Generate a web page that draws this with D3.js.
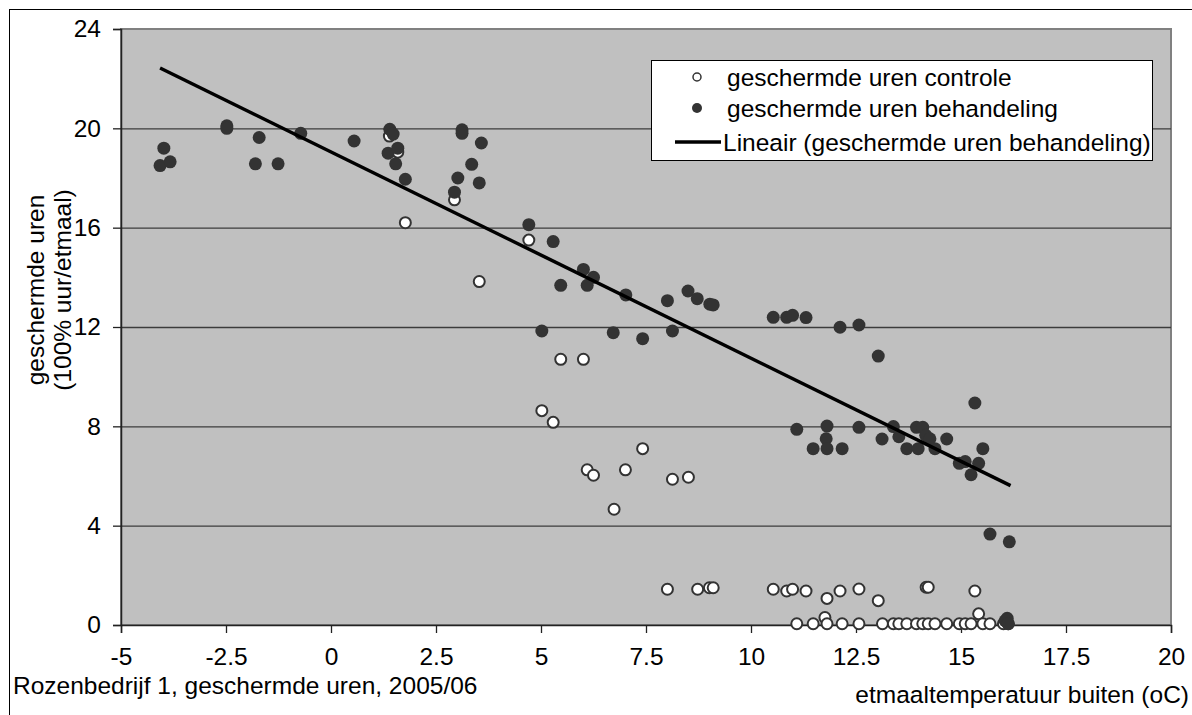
<!DOCTYPE html>
<html>
<head>
<meta charset="utf-8">
<script src="https://cdn.jsdelivr.net/npm/d3@7"></script>
<style>
  body { margin: 0; background: #fff; }
  svg { display: block; font-family: "Liberation Sans", Arial, sans-serif; }
</style>
</head>
<body>
<svg id="chart" width="1192" height="715"></svg>
<script>
// tick values
const xTicks = [-5, -2.5, 0, 2.5, 5, 7.5, 10, 12.5, 15, 17.5, 20];
const yTicks = [0, 4, 8, 12, 16, 20, 24];

// geschermde uren controle (open markers)
const controleData = [
  [1.39, 19.69], [1.59, 19.04], [1.77, 16.2], [2.94, 17.12], [4.71, 15.5], [3.53, 13.83],
  [5.47, 10.7], [6.01, 10.7], [5.02, 8.63], [5.29, 8.16], [7.42, 7.1], [6.10, 6.25],
  [6.25, 6.03], [7.01, 6.25], [8.13, 5.87], [8.51, 5.95], [6.74, 4.66], [8.01, 1.44],
  [8.73, 1.44], [9.01, 1.5], [9.1, 1.5], [10.53, 1.44], [10.85, 1.37], [10.99, 1.44],
  [11.31, 1.37], [11.81, 1.07], [12.12, 1.37], [12.57, 1.45], [13.03, 0.98], [14.17, 1.52],
  [14.22, 1.52], [15.33, 1.37], [15.42, 0.45], [11.76, 0.3],
  [11.09, 0.05], [11.48, 0.05], [11.81, 0.05], [12.17, 0.05], [12.57, 0.05], [13.13, 0.05],
  [13.39, 0.05], [13.52, 0.05], [13.71, 0.05], [13.94, 0.05], [14.09, 0.05], [14.22, 0.05],
  [14.38, 0.05], [14.66, 0.05], [14.96, 0.05], [15.1, 0.05], [15.24, 0.05], [15.52, 0.05],
  [15.69, 0.05], [16.01, 0.05], [16.13, 0.05]
];

// geschermde uren behandeling (filled markers)
const behandelingData = [
  [-4.07, 18.5], [-3.98, 19.2], [-3.83, 18.65], [-2.48, 20.1], [-2.48, 20.0], [-1.71, 19.63],
  [-1.80, 18.57], [-1.26, 18.57], [-0.72, 19.8], [0.55, 19.49], [1.40, 19.96], [1.48, 19.77],
  [1.36, 19.0], [1.59, 19.2], [1.54, 18.57], [1.77, 17.95], [3.12, 19.94], [3.12, 19.8],
  [3.58, 19.41], [3.35, 18.55], [3.02, 18.0], [3.53, 17.8], [2.94, 17.43], [4.71, 16.12],
  [5.29, 15.44], [6.01, 14.32], [6.25, 14.0], [6.10, 13.68], [5.47, 13.68], [7.02, 13.29],
  [8.01, 13.06], [8.5, 13.45], [8.72, 13.14], [9.02, 12.92], [9.10, 12.89], [10.53, 12.39],
  [10.85, 12.39], [10.99, 12.47], [11.31, 12.38], [12.12, 11.99], [12.57, 12.08], [13.03, 10.83],
  [5.02, 11.84], [6.72, 11.77], [7.42, 11.53], [8.13, 11.84], [15.33, 8.94], [11.09, 7.88],
  [11.81, 8.01], [11.79, 7.5], [11.48, 7.1], [11.81, 7.1], [12.17, 7.1], [12.57, 7.96],
  [13.12, 7.49], [13.39, 7.99], [13.52, 7.58], [13.71, 7.1], [13.94, 7.96], [14.09, 7.96],
  [13.98, 7.1], [14.16, 7.64], [14.26, 7.5], [14.38, 7.1], [14.66, 7.49], [14.96, 6.51],
  [15.1, 6.58], [15.24, 6.05], [15.42, 6.51], [15.52, 7.1], [15.69, 3.66], [16.15, 3.35],
  [16.05, 0.17], [16.1, 0.27], [16.12, 0.05]
];

// Lineair (geschermde uren behandeling), end points
const trendX = [-4.07, 16.18];
const trendY = [22.43, 5.61];

const FONT = '24.5px';
const plot = { left: 121, right: 1171, top: 29, bottom: 625 };
const svg = d3.select('#chart');

// chart frame
svg.append('rect').attr('x', 9.5).attr('y', 9.5).attr('width', 1190).attr('height', 1000)
  .attr('fill', '#fff').attr('stroke', '#000').attr('stroke-width', 1);

const x = d3.scaleLinear().domain([-5, 20]).range([plot.left, plot.right]);
const y = d3.scaleLinear().domain([0, 24]).range([plot.bottom, plot.top]);

// plot area
svg.append('rect')
  .attr('x', plot.left).attr('y', plot.top)
  .attr('width', plot.right - plot.left).attr('height', plot.bottom - plot.top)
  .attr('fill', '#c0c0c0').attr('stroke', '#808080').attr('stroke-width', 2);

// gridlines
svg.append('g').selectAll('line').data(yTicks.filter(d => d > 0 && d < 24)).enter().append('line')
  .attr('x1', plot.left).attr('x2', plot.right)
  .attr('y1', d => y(d) + 0.5).attr('y2', d => y(d) + 0.5)
  .attr('stroke', '#3c3c3c').attr('stroke-width', 1.3);

// axes
const yAxis = svg.append('g').attr('transform', `translate(${plot.left},0)`)
  .call(d3.axisLeft(y).tickValues(yTicks).tickSize(8).tickPadding(12).tickFormat(d3.format('d')));
const xAxis = svg.append('g').attr('transform', `translate(0,${plot.bottom})`)
  .call(d3.axisBottom(x).tickValues(xTicks).tickSize(8).tickPadding(15).tickFormat(d => String(d)));
[xAxis, yAxis].forEach(a => {
  a.select('.domain').attr('stroke', '#222').attr('stroke-width', 1.5);
  a.selectAll('.tick line').attr('stroke', '#222').attr('stroke-width', 1.3);
  a.selectAll('.tick text').attr('fill', '#000').attr('font-size', FONT)
    .attr('font-family', '"Liberation Sans", Arial, sans-serif');
});

// control markers (drawn first)
svg.append('g').selectAll('circle').data(controleData).enter().append('circle')
  .attr('cx', d => x(d[0])).attr('cy', d => y(d[1])).attr('r', 5.5)
  .attr('fill', '#fff').attr('stroke', '#333').attr('stroke-width', 2);

// treatment markers
svg.append('g').selectAll('circle').data(behandelingData).enter().append('circle')
  .attr('cx', d => x(d[0])).attr('cy', d => y(d[1])).attr('r', 6.5)
  .attr('fill', '#333');

// trend line
svg.append('line')
  .attr('x1', x(trendX[0])).attr('y1', y(trendY[0]))
  .attr('x2', x(trendX[1])).attr('y2', y(trendY[1]))
  .attr('stroke', '#000').attr('stroke-width', 3.5);

// legend
const lg = svg.append('g');
lg.append('rect').attr('x', 651.5).attr('y', 60.5).attr('width', 501).attr('height', 100)
  .attr('fill', '#fff').attr('stroke', '#000').attr('stroke-width', 1);
const rowY = [77, 108, 142];
lg.append('circle').attr('cx', 697).attr('cy', rowY[0]).attr('r', 4)
  .attr('fill', '#fff').attr('stroke', '#333').attr('stroke-width', 1.5);
lg.append('circle').attr('cx', 697).attr('cy', rowY[1]).attr('r', 5).attr('fill', '#333');
lg.append('line').attr('x1', 675).attr('x2', 721).attr('y1', rowY[2]).attr('y2', rowY[2])
  .attr('stroke', '#000').attr('stroke-width', 3.5);
const legendLabels = ['geschermde uren controle', 'geschermde uren behandeling', 'Lineair (geschermde uren behandeling)'];
lg.selectAll('text.lbl').data(legendLabels).enter().append('text')
  .attr('x', (d, i) => i === 2 ? 723 : 727).attr('y', (d, i) => rowY[i])
  .attr('dy', '0.35em').attr('font-size', FONT).attr('fill', '#000').text(d => d);

// axis titles
const yTitle = svg.append('text').attr('transform', 'translate(44,290) rotate(-90)')
  .attr('text-anchor', 'middle').attr('font-size', FONT).attr('fill', '#000');
yTitle.append('tspan').attr('x', 0).attr('y', 0).text('geschermde uren');
yTitle.append('tspan').attr('x', 0).attr('y', 27).text('(100% uur/etmaal)');

svg.append('text').attr('x', 13).attr('y', 694).attr('font-size', FONT).attr('fill', '#000')
  .text('Rozenbedrijf 1, geschermde uren, 2005/06');
svg.append('text').attr('x', 1189).attr('y', 703).attr('text-anchor', 'end')
  .attr('font-size', FONT).attr('fill', '#000').text('etmaaltemperatuur buiten (oC)');
</script>
</body>
</html>
